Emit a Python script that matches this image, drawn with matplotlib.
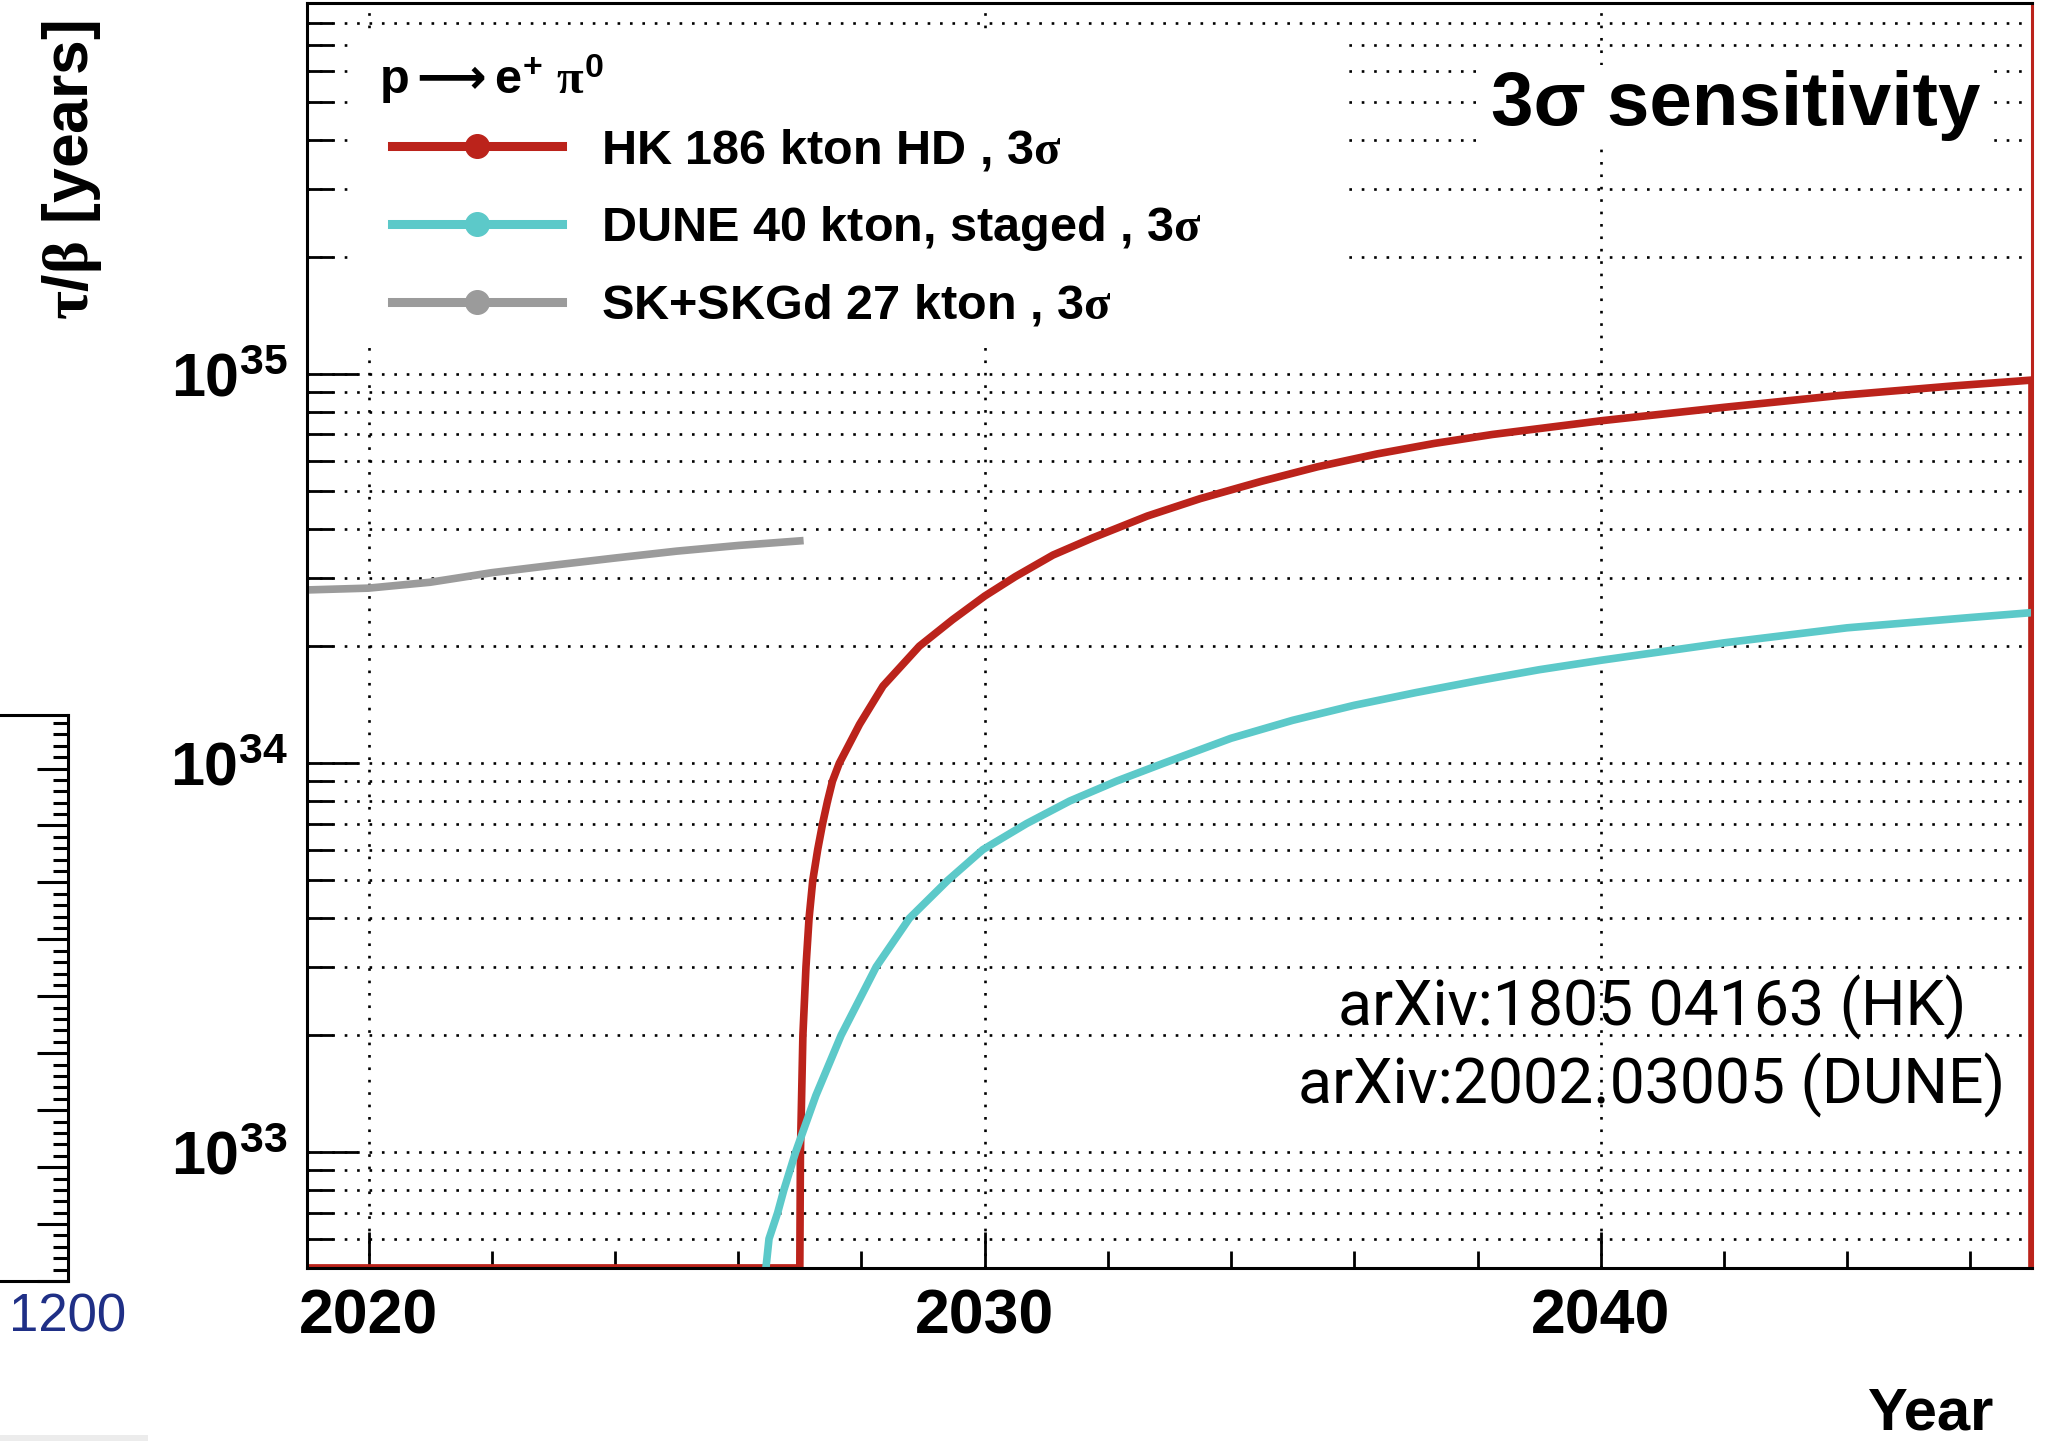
import matplotlib
matplotlib.use("Agg")
from matplotlib import pyplot as plt
from matplotlib.lines import Line2D
from matplotlib.patches import Rectangle
from matplotlib.ticker import LogLocator, MultipleLocator, NullFormatter

plt.rcParams['font.family'] = 'Liberation Sans'
plt.rcParams['font.weight'] = 'bold'
plt.rcParams['mathtext.fontset'] = 'custom'
plt.rcParams['mathtext.rm'] = 'Liberation Sans:bold'
plt.rcParams['mathtext.bf'] = 'Liberation Sans:bold'
plt.rcParams['mathtext.it'] = 'Liberation Serif'
plt.rcParams['mathtext.sf'] = 'DejaVu Sans'

# floor of the plot (no sensitivity yet)
y_floor = 5.05e32

# HK 186 kton HD, 3 sigma
hk_year = [2019.0, 2027.0, 2027.01, 2027.05, 2027.10, 2027.15, 2027.21, 2027.29, 2027.37,
           2027.45, 2027.53, 2027.64, 2027.97, 2028.35, 2028.94, 2029.48, 2030.0, 2030.5,
           2031.11, 2031.76, 2032.64, 2033.5, 2034.5, 2035.4, 2036.37, 2037.3, 2038.24,
           2040.0, 2042.0, 2043.85, 2045.72, 2047.0, 2047.0]
hk_tau = [y_floor, y_floor, 1.0e33, 2.0e33, 3.0e33, 4.0e33, 5.0e33, 6.0e33, 7.0e33,
          8.0e33, 9.0e33, 1.0e34, 1.26e34, 1.58e34, 2.0e34, 2.34e34, 2.69e34, 3.02e34,
          3.43e34, 3.80e34, 4.32e34, 4.79e34, 5.31e34, 5.78e34, 6.24e34, 6.64e34, 7.0e34,
          7.59e34, 8.22e34, 8.81e34, 9.33e34, 9.66e34, y_floor]

# DUNE 40 kton, staged, 3 sigma
dune_year = [2026.45, 2026.50, 2026.64, 2026.74, 2026.93, 2027.26, 2027.67, 2028.24, 2028.78,
             2029.40, 2029.97, 2030.68, 2031.38, 2032.14, 2032.90, 2034.0, 2035.0, 2036.0,
             2037.0, 2038.0, 2039.0, 2040.0, 2042.0, 2044.0, 2046.0, 2047.0]
dune_tau = [y_floor, 6.0e32, 7.0e32, 8.0e32, 1.0e33, 1.4e33, 2.0e33, 3.0e33, 4.0e33,
            5.0e33, 6.0e33, 7.0e33, 8.0e33, 9.0e33, 1.0e34, 1.16e34, 1.29e34, 1.41e34,
            1.52e34, 1.63e34, 1.74e34, 1.84e34, 2.04e34, 2.23e34, 2.37e34, 2.44e34]

# SK+SKGd 27 kton, 3 sigma
sk_year = [2019, 2020, 2021, 2022, 2023, 2024, 2025, 2026, 2027]
sk_tau = [2.79e34, 2.82e34, 2.92e34, 3.09e34, 3.23e34, 3.37e34, 3.51e34, 3.63e34, 3.73e34]

labels = [r'HK 186 kton HD , 3$\sigma$',
          r'DUNE 40 kton, staged , 3$\sigma$',
          r'SK+SKGd 27 kton , 3$\sigma$']
colors = ['#bb231b', '#5cc9c9', '#9b9b9b']
year_ticks = [2020, 2030, 2040]
tau_ticks = [1e33, 1e34, 1e35]
tau_labels = [r'$\mathbf{10^{33}}$', r'$\mathbf{10^{34}}$', r'$\mathbf{10^{35}}$']

fig = plt.figure(figsize=(20.49, 14.41), dpi=100)
fig.patch.set_facecolor('white')

ax = fig.add_axes([0.1498, 0.1201, 0.8419, 0.8779])
ax.set_yscale('log')
ax.set_xlim(2019, 2047)
ax.set_ylim(y_floor, 9.0e35)
ax.set_axisbelow(True)

dot = (0, (1, 3.7))
ax.grid(True, which='major', axis='x', color='black', linestyle=dot, linewidth=1.9)
ax.grid(True, which='both', axis='y', color='black', linestyle=dot, linewidth=1.9)

ax.set_xticks(year_ticks)
ax.set_xticklabels([str(y) for y in year_ticks])
ax.xaxis.set_minor_locator(MultipleLocator(2))
ax.set_yticks(tau_ticks)
ax.set_yticklabels(tau_labels)
ax.yaxis.set_minor_locator(LogLocator(base=10, subs=[2, 3, 4, 5, 6, 7, 8, 9]))
ax.yaxis.set_minor_formatter(NullFormatter())

ax.tick_params(which='both', direction='in', top=False, right=False, width=2)
ax.tick_params(axis='x', which='major', length=26, labelsize=45, pad=14)
ax.tick_params(axis='x', which='minor', length=12)
ax.tick_params(axis='y', which='major', length=37, labelsize=44, pad=14)
ax.tick_params(axis='y', which='minor', length=19)

for s in ax.spines.values():
    s.set_linewidth(2.2)
    s.set_zorder(5)
ax.spines['right'].set_color(colors[0])

# white box behind legend
ax.add_patch(Rectangle((0.026, 0.730), 0.576, 0.243, transform=ax.transAxes,
                       facecolor='white', edgecolor='none', zorder=1))

ax.plot(hk_year, hk_tau, color=colors[0], lw=5.5, zorder=3, solid_joinstyle='round')
ax.plot(dune_year, dune_tau, color=colors[1], lw=5.5, zorder=4, solid_joinstyle='round')
ax.plot(sk_year, sk_tau, color=colors[2], lw=5.5, zorder=3, solid_joinstyle='round')

handles = [Line2D([], [], color=c, lw=6.5, marker='o', ms=17) for c in colors]
ax.legend(handles, labels, loc='upper left', bbox_to_anchor=(0.0493, 0.9015),
          frameon=False, prop={'size': 35, 'weight': 'bold'}, handlelength=3.5,
          handletextpad=0.8, labelspacing=0.62, borderpad=0, borderaxespad=0)
ax.text(0.0417, 0.928, r'$\mathbf{p}\mathsf{\longrightarrow}\mathbf{e}^{+}\ \pi^{0}$',
        transform=ax.transAxes, fontsize=35, va='baseline', ha='left', zorder=6)

fig.text(0.9663, 0.9133, '3σ sensitivity', fontsize=55, ha='right', va='baseline',
         bbox=dict(facecolor='white', edgecolor='none', pad=4))

ax.text(0.7797, 0.1913, 'arXiv:1805 04163 (HK)', transform=ax.transAxes, ha='center',
        va='baseline', fontsize=45, family='Roboto', weight='normal', color='black')
ax.text(0.7797, 0.1296, 'arXiv:2002.03005 (DUNE)', transform=ax.transAxes, ha='center',
        va='baseline', fontsize=45, family='Roboto', weight='normal', color='black')

fig.text(0.0351, 0.9861, r'$\tau/\beta$ [years]', rotation=90, ha='center', va='top',
         fontsize=45)
fig.text(0.9727, 0.008, 'Year', ha='right', va='baseline', fontsize=43)

# piece of a neighbouring plot on the left edge
lax = fig.add_axes([-0.1668, 0.111, 0.2, 0.3928])
lax.set_xlim(1000, 1200)
lax.set_ylim(0, 9.94)
lax.set_xticks([1200])
lax.set_xticklabels(['1200'])
lax.yaxis.tick_right()
lax.yaxis.set_major_locator(MultipleLocator(1))
lax.yaxis.set_minor_locator(MultipleLocator(0.2))
lax.yaxis.set_major_formatter(NullFormatter())
lax.tick_params(axis='y', which='major', direction='in', length=22, width=2.2)
lax.tick_params(axis='y', which='minor', direction='in', length=11, width=2.2)
lax.tick_params(axis='x', length=0, labelsize=38, pad=8, labelcolor='#1f2f86')
for lab in lax.get_xticklabels():
    lab.set_fontweight('normal')
for s in lax.spines.values():
    s.set_linewidth(2.2)

fig.patches.append(Rectangle((0, 0), 0.0722, 0.0042, transform=fig.transFigure,
                             facecolor='#ececec', edgecolor='none'))

fig.savefig('out.png', dpi=100)
